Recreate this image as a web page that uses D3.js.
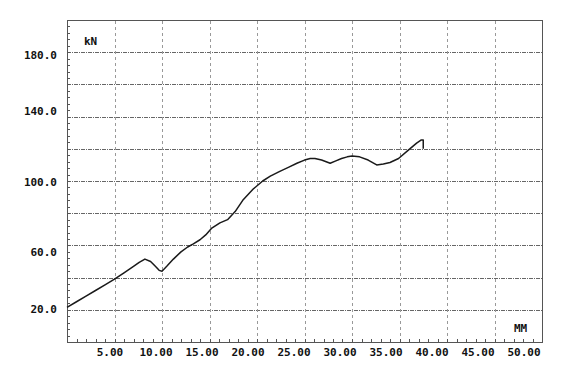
<!DOCTYPE html>
<html>
<head>
<meta charset="utf-8">
<script src="https://cdn.jsdelivr.net/npm/d3@7/dist/d3.min.js"></script>
<style>
  html, body { margin: 0; padding: 0; background: #fff; }
  svg { display: block; }
  .lbl { font-family: "DejaVu Sans Mono", monospace; font-weight: bold; font-size: 11px; fill: #111; }
</style>
</head>
<body>
<svg id="chart" width="588" height="384"></svg>
<script>
// Displacement (mm) and load (kN)
const dispMM = [0, 1, 2, 3, 4, 5, 6, 7, 7.6, 8.2, 8.8, 9.3, 9.7, 10.0, 10.5, 11.2, 12.0, 12.7, 13.3, 14.0, 14.6, 15.2, 16.1, 16.9, 17.7, 18.5, 19.6, 20.6, 21.4, 22.4, 23.3, 24.2, 25.0, 25.6, 26.1, 26.8, 27.7, 28.3, 28.9, 29.5, 30.0, 30.8, 31.7, 32.6, 33.3, 34.0, 34.9, 35.9, 36.8, 37.3, 37.5, 37.5];
const loadKN = [21.5, 25, 28.5, 32, 35.5, 39, 43, 47, 49.5, 51.5, 50, 47, 44.5, 44, 47, 51.5, 56, 59, 61, 63.5, 66.5, 70.5, 74, 76, 81, 88, 95, 100, 103, 106, 108.5, 111, 113, 114, 114, 113, 111, 112.5, 114, 115, 115.5, 115, 113, 110, 110.5, 111.5, 114, 119, 123.5, 125.5, 125.5, 120];

const xTicks = [5, 10, 15, 20, 25, 30, 35, 40, 45, 50];
const xTickLabels = ["5.00", "10.00", "15.00", "20.00", "25.00", "30.00", "35.00", "40.00", "45.00", "50.00"];
const yGrid = [20, 40, 60, 80, 100, 120, 140, 160, 180];
const yTicks = [20, 60, 100, 140, 180];
const yTickLabels = ["20.0", "60.0", "100.0", "140.0", "180.0"];
const yUnit = "kN";
const xUnit = "MM";

const margin = {left: 67, top: 20, right: 46, bottom: 42};
const W = 588, H = 384;
const svg = d3.select("#chart");

const x = d3.scaleLinear().domain([0, 50]).range([margin.left, W - margin.right]);
const y = d3.scaleLinear().domain([0, 200]).range([H - margin.bottom, margin.top]);
// printer text grid: labels sit on character cells, not exactly on the gridlines
const xLabel = d3.scaleLinear().domain([10, 50]).range([156, 524]);
const rowH = 14.1, rowBase = 54.7;
const snapRow = v => rowBase + Math.round((y(v) - rowBase) / rowH) * rowH;

// grid
svg.append("g").selectAll("line").data(yGrid).join("line")
  .attr("x1", x(0)).attr("x2", x(50))
  .attr("y1", d => Math.round(y(d)) + 0.5).attr("y2", d => Math.round(y(d)) + 0.5)
  .attr("stroke", "#666").attr("stroke-width", 1).attr("stroke-dasharray", "4,1,1,1");
svg.append("g").selectAll("line").data(xTicks.filter(d => d < 50)).join("line")
  .attr("x1", d => Math.round(x(d)) + 0.5).attr("x2", d => Math.round(x(d)) + 0.5)
  .attr("y1", y(0)).attr("y2", y(200))
  .attr("stroke", "#999").attr("stroke-width", 1).attr("stroke-dasharray", "3,3");

// minor ticks
svg.append("g").selectAll("line").data(d3.range(4, 200, 4)).join("line")
  .attr("x1", x(0)).attr("x2", x(0) + 3)
  .attr("y1", d => Math.round(y(d)) + 0.5).attr("y2", d => Math.round(y(d)) + 0.5)
  .attr("stroke", "#555");
svg.append("g").selectAll("line").data(d3.range(1, 50, 1)).join("line")
  .attr("x1", d => Math.round(x(d)) + 0.5).attr("x2", d => Math.round(x(d)) + 0.5)
  .attr("y1", y(0)).attr("y2", y(0) - 3)
  .attr("stroke", "#555");

// frame
svg.append("rect")
  .attr("x", x(0) + 0.5).attr("y", y(200) + 0.5)
  .attr("width", x(50) - x(0)).attr("height", y(0) - y(200))
  .attr("fill", "none").attr("stroke", "#555").attr("stroke-width", 1);

// curve
const pts = dispMM.map((d, i) => [d, loadKN[i]]);
svg.append("path")
  .attr("d", d3.line().x(d => x(d[0])).y(d => y(d[1])).curve(d3.curveLinear)(pts))
  .attr("fill", "none").attr("stroke", "#1a1a1a").attr("stroke-width", 1.5)
  .attr("stroke-linejoin", "round");

// labels
svg.append("g").selectAll("text").data(yTicks).join("text")
  .attr("class", "lbl").attr("x", 57).attr("y", d => snapRow(d) + 4)
  .attr("text-anchor", "end").text((d, i) => yTickLabels[i]);
svg.append("g").selectAll("text").data(xTicks).join("text")
  .attr("class", "lbl").attr("x", d => xLabel(d)).attr("y", 356)
  .attr("text-anchor", "middle").text((d, i) => xTickLabels[i]);
svg.append("text").attr("class", "lbl").attr("x", 84).attr("y", 45).text(yUnit);
svg.append("text").attr("class", "lbl").attr("x", 514).attr("y", 332).text(xUnit);
</script>
</body>
</html>
